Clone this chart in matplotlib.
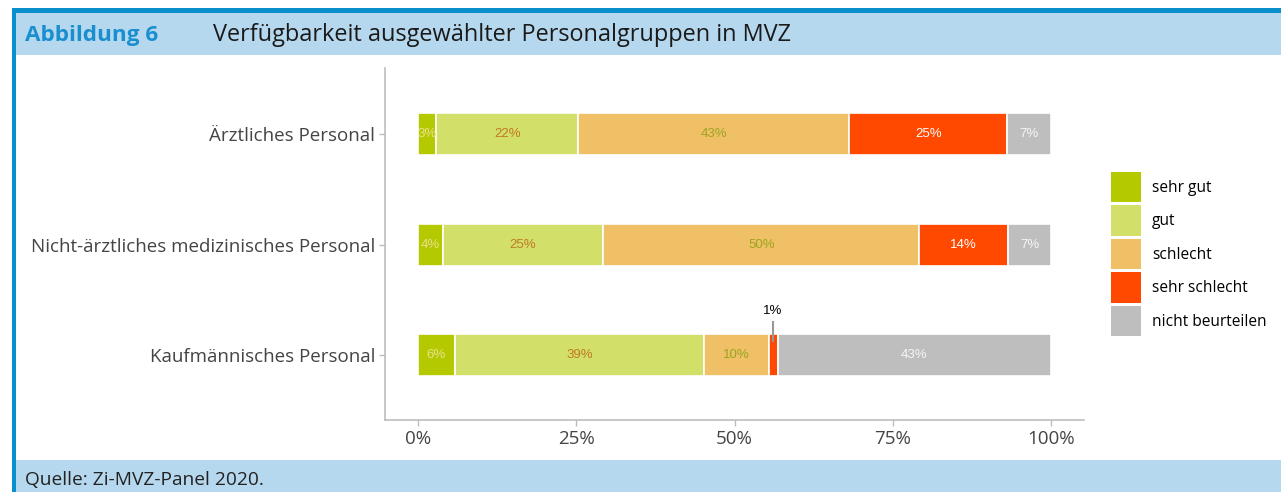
import numpy as np
import matplotlib.pyplot as plt
from matplotlib.patches import Rectangle, Patch

# data (shares in %)
gruppen = ["Kaufmännisches Personal", "Nicht-ärztliches medizinisches Personal", "Ärztliches Personal"]
kategorien = ["sehr gut", "gut", "schlecht", "sehr schlecht", "nicht beurteilen"]
sehr_gut = [5.8, 3.9, 2.9]
gut = [39.4, 25.4, 22.4]
schlecht = [10.2, 49.9, 42.8]
sehr_schlecht = [1.4, 14.0, 25.0]
nicht_beurteilen = [43.2, 6.8, 6.9]
xticks = [0, 25, 50, 75, 100]

farben = ["#b5c900", "#d2df69", "#efc066", "#ff4800", "#bebebe"]
textfarben = ["#e9e18e", "#c07a22", "#9ba51e", "#ffffff", "#f6f6f6"]

W, H = 1281, 492
fig = plt.figure(figsize=(W / 100, H / 100), dpi=100)

def box(x0, y0, x1, y1, c):
	# rectangle in pixel coords (top-left origin)
	fig.patches.append(Rectangle((x0 / W, 1 - y1 / H), (x1 - x0) / W, (y1 - y0) / H,
		transform=fig.transFigure, facecolor=c, edgecolor="none", zorder=0))

box(12, 8, W, 13, "#0a8fcd")
box(16, 13, W, 55, "#b6d8ee")
box(12, 8, 16, H, "#0a8fcd")
box(16, 460, W, H, "#b6d8ee")

fig.text(25 / W, 1 - 35 / H, "Abbildung 6", color="#1a8fd0", fontsize=16.2, fontweight="bold",
	family="Open Sans", va="center")
fig.text(213 / W, 1 - 35 / H, "Verfügbarkeit ausgewählter Personalgruppen in MVZ", color="#1a1a1a",
	fontsize=16.9, family="Open Sans", va="center")
fig.text(25 / W, 1 - 480 / H, "Quelle: Zi-MVZ-Panel 2020.", color="#222222", fontsize=13.8,
	family="Open Sans", va="center")

ax = fig.add_axes([385 / W, 1 - 420 / H, (1084 - 385) / W, (420 - 68) / H])

serien = [sehr_gut, gut, schlecht, sehr_schlecht, nicht_beurteilen]
y = np.arange(1, len(gruppen) + 1)
links = np.zeros(len(gruppen))
for werte, farbe, tf in zip(serien, farben, textfarben):
	werte = np.array(werte)
	ax.barh(y, werte, left=links, height=0.38, color=farbe, edgecolor="white", linewidth=1.2)
	for yi, l, w in zip(y, links, werte):
		if w >= 2:
			ax.text(l + w / 2, yi, "%d%%" % round(w), color=tf, ha="center", va="center",
				fontsize=9.5, family="Liberation Sans")
		else:
			ax.plot([l + w / 2, l + w / 2], [yi + 0.13, yi + 0.3], color="#999999", lw=1.5)
			ax.text(l + w / 2, yi + 0.4, "%d%%" % round(w), color="black", ha="center", va="center",
				fontsize=9.5, family="Liberation Sans")
	links = links + werte

ax.set_xlim(-5.2, 105.2)
ax.set_ylim(0.41, 3.6)
ax.set_yticks(y)
ax.set_yticklabels(gruppen, fontsize=13.5, family="Open Sans", color="#444444")
ax.set_xticks(xticks)
ax.set_xticklabels(["%d%%" % t for t in xticks], fontsize=13.5, family="Open Sans", color="#444444")
for s in ["top", "right"]:
	ax.spines[s].set_visible(False)
for s in ["left", "bottom"]:
	ax.spines[s].set_color("#bdbdbd")
	ax.spines[s].set_linewidth(1.2)
ax.tick_params(color="#bdbdbd", length=4, width=1, pad=3)

handles = [Patch(facecolor=f, edgecolor="none") for f in farben]
fig.legend(handles, kategorien, loc="upper left", bbox_to_anchor=(1111 / W, 1 - 172 / H),
	frameon=False, prop={"family": "Open Sans", "size": 11.2},
	handlelength=1.93, handleheight=2.62, labelspacing=0.2, handletextpad=0.7,
	borderpad=0, borderaxespad=0)

fig.savefig("out.png", dpi=100)
